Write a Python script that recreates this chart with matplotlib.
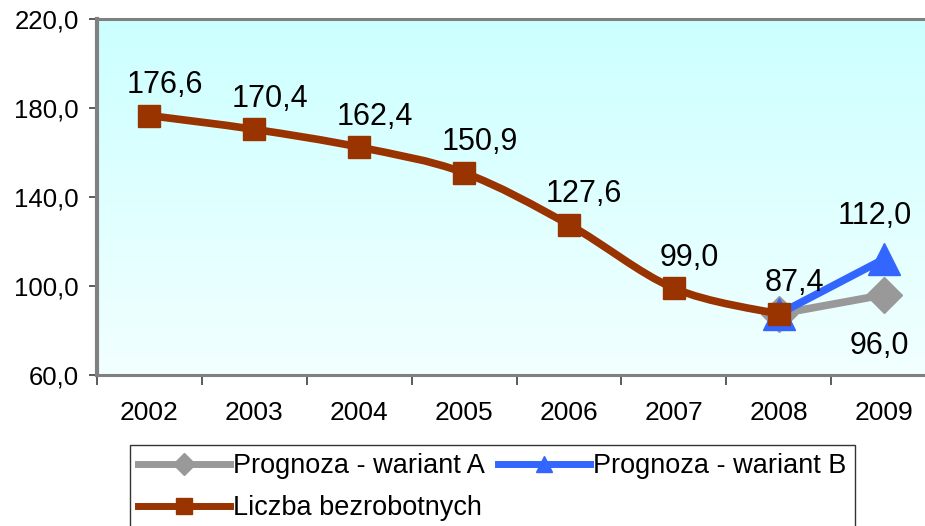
import numpy as np
import matplotlib.pyplot as plt
from matplotlib.path import Path
from matplotlib.patches import PathPatch
from matplotlib.lines import Line2D

plt.rcParams['font.family'] = ['Liberation Sans', 'DejaVu Sans']

years = ["2002", "2003", "2004", "2005", "2006", "2007", "2008", "2009"]
bezrobotni = [176.6, 170.4, 162.4, 150.9, 127.6, 99.0, 87.4]
wariant_a = [87.4, 96.0]
wariant_b = [87.4, 112.0]

brown = "#993300"
blue = "#3366FF"
grey = "#999999"

fig = plt.figure(figsize=(9.25, 5.26), dpi=100)
ax = fig.add_axes([97 / 925, 1 - 375 / 526, 839 / 925, 356 / 526])

# gradient background of the plot area
grad = np.linspace(0, 1, 256).reshape(-1, 1)
top = np.array([204, 255, 255]) / 255
bot = np.array([242, 255, 255]) / 255
img = top + (bot - top) * grad[:, :, None]
ax.imshow(img, extent=[0, 1, 0, 1], transform=ax.transAxes, aspect="auto", zorder=0)

x_all = np.arange(len(years))
x_fc = x_all[6:8]

# forecasts
ax.plot(x_fc, wariant_a, color=grey, lw=5.5, marker="D", ms=18, zorder=3,
        solid_capstyle="round")
ax.plot(x_fc, wariant_b, color=blue, lw=5.5, marker="^", ms=23, zorder=3,
        solid_capstyle="round")

# smoothed main line (Excel-like smoothing through the data points)
xs = x_all[:len(bezrobotni)].astype(float)
ys = np.array(bezrobotni)
verts = [(xs[0], ys[0])]
codes = [Path.MOVETO]
n = len(xs)
for i in range(n - 1):
    p0 = np.array([xs[max(i - 1, 0)], ys[max(i - 1, 0)]])
    p1 = np.array([xs[i], ys[i]])
    p2 = np.array([xs[i + 1], ys[i + 1]])
    p3 = np.array([xs[min(i + 2, n - 1)], ys[min(i + 2, n - 1)]])
    c1 = p1 + (p2 - p0) / 6
    c2 = p2 - (p3 - p1) / 6
    verts += [tuple(c1), tuple(c2), tuple(p2)]
    codes += [Path.CURVE4] * 3
ax.add_patch(PathPatch(Path(verts, codes), fill=False, edgecolor=brown, lw=5.5,
                       zorder=4, capstyle="round"))
ax.plot(xs, ys, ls="none", marker="s", ms=16.5, color=brown, zorder=5)

# data labels
for x, v in zip(xs, ys):
    ax.annotate(f"{v:.1f}".replace(".", ","), (x, v), xytext=(11, 22),
                textcoords="offset points", ha="center", va="center", fontsize=22)
ax.annotate(f"{wariant_b[1]:.1f}".replace(".", ","), (x_fc[1], wariant_b[1]),
            xytext=(-6, 31), textcoords="offset points", ha="center", va="center",
            fontsize=22)
ax.annotate(f"{wariant_a[1]:.1f}".replace(".", ","), (x_fc[1], wariant_a[1]),
            xytext=(-3, -37), textcoords="offset points", ha="center", va="center",
            fontsize=22)

ax.set_xlim(-0.5, 7.5)
ax.set_ylim(60, 220)
ax.set_yticks(np.arange(60, 221, 40))
ax.set_yticklabels([f"{v:.1f}".replace(".", ",") for v in np.arange(60, 221, 40)])
ax.set_xticks(x_all)
ax.set_xticklabels(years)
ax.set_xticks(np.arange(-0.5, 7.6, 1), minor=True)
ax.tick_params(axis="x", which="major", length=0, pad=19, labelsize=19)
ax.tick_params(axis="x", which="minor", length=7, width=1.2, color="#404040")
ax.tick_params(axis="y", length=6, width=1.2, color="#404040", pad=7, labelsize=18.5)

for side in ["left", "bottom", "top"]:
    ax.spines[side].set_color("#808080")
    ax.spines[side].set_linewidth(2.2)
ax.spines["left"].set_linewidth(3)
ax.spines["right"].set_visible(False)

handles = [
    Line2D([], [], color=grey, lw=5, marker="D", ms=11),
    Line2D([], [], color=brown, lw=5, marker="s", ms=11),
    Line2D([], [], color=blue, lw=5, marker="^", ms=12),
]
labels = ["Prognoza - wariant A", "Liczba bezrobotnych", "Prognoza - wariant B"]
leg = fig.legend(handles, labels, loc="upper left", bbox_to_anchor=(130 / 925, 1 - 445 / 526),
                 ncol=2, fontsize=19.5, frameon=True, fancybox=False, edgecolor="black",
                 handlelength=3.4, handletextpad=0.1, columnspacing=0.5,
                 labelspacing=0.6, borderpad=0.3, borderaxespad=0)
leg.get_frame().set_linewidth(1.0)

plt.savefig("out.png", dpi=100)
